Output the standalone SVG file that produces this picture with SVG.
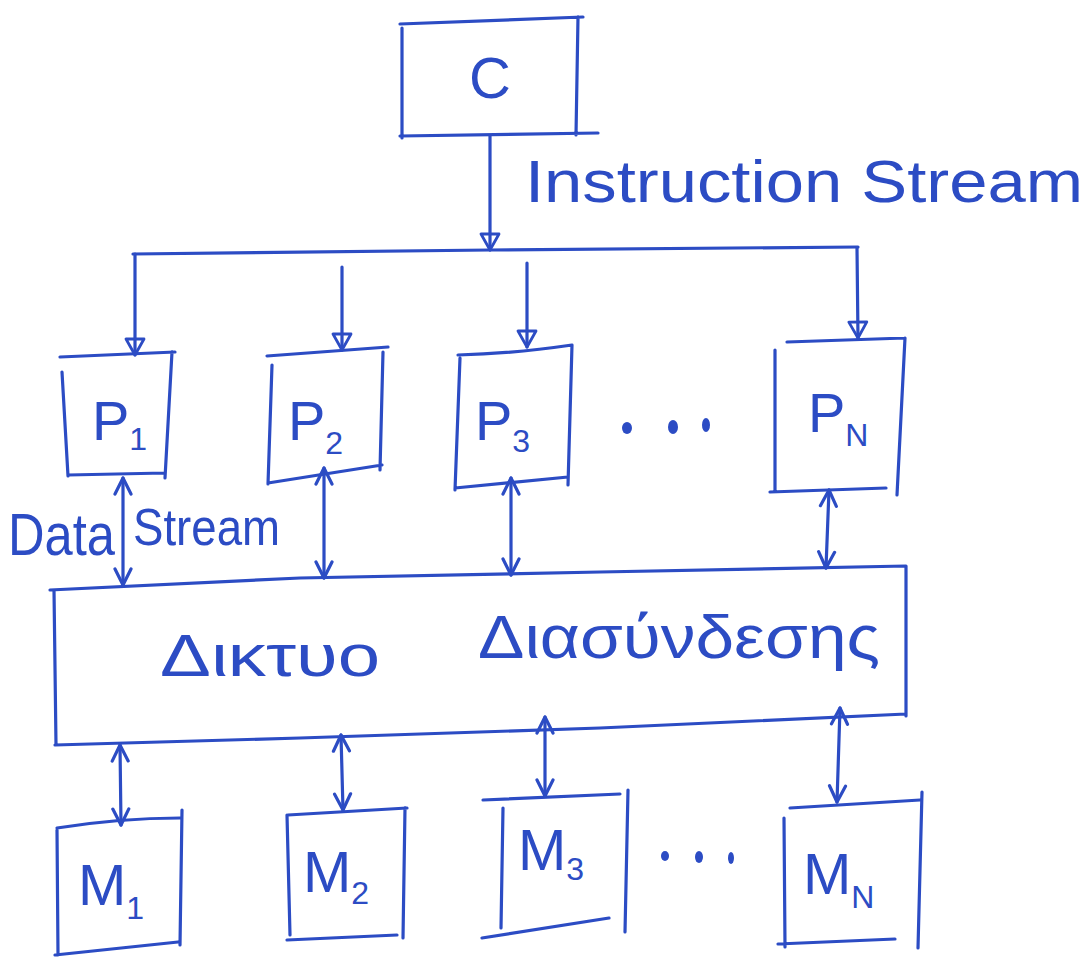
<svg xmlns="http://www.w3.org/2000/svg" width="1085" height="959" viewBox="0 0 1085 959">
  <style>
    .ink { fill: none; stroke: #2c4cc4; stroke-width: 3.2; stroke-linecap: round; stroke-linejoin: round; }
    .lbl { fill: #2c4cc4; font-family: "Liberation Sans", "DejaVu Sans", sans-serif; }
    .sub { font-size: 32px; }
    .dot { fill: #2c4cc4; }
  </style>
  <defs>
    <!-- open triangle head for the instruction broadcast -->
    <marker id="tri" viewBox="0 0 24 24" refX="22" refY="12" markerWidth="24" markerHeight="24" markerUnits="userSpaceOnUse" orient="auto-start-reverse">
      <path d="M6,3 L22,12 L6,21 Z" fill="none" stroke="#2c4cc4" stroke-width="2.8" stroke-linejoin="round"/>
    </marker>
    <!-- chevron head for the data links -->
    <marker id="tip" viewBox="0 0 22 22" refX="20" refY="11" markerWidth="22" markerHeight="22" markerUnits="userSpaceOnUse" orient="auto-start-reverse">
      <path d="M4,3 L20,11 L4,19" fill="none" stroke="#2c4cc4" stroke-width="3.2" stroke-linecap="round" stroke-linejoin="round"/>
    </marker>
  </defs>

  <rect width="1085" height="959" fill="#ffffff"/>

  <!-- control unit -->
  <g id="node-c">
    <path class="ink" d="M400,24 L583,17 M402,28 L402,138 M400,136 L598,133 M578,17 L576,135"/>
    <text class="lbl" x="490" y="98" font-size="58" text-anchor="middle">C</text>
  </g>

  <text class="lbl" x="525" y="202" font-size="60" textLength="558" lengthAdjust="spacingAndGlyphs">Instruction Stream</text>

  <!-- processors -->
  <g id="node-p1">
    <path class="ink" d="M60,357 L175,352 M62,372 L68,476 M172,352 L165,478 M68,475 L165,473"/>
    <text class="lbl" x="92" y="440" font-size="56">P<tspan class="sub" dy="10">1</tspan></text>
  </g>
  <g id="node-p2">
    <path class="ink" d="M267,356 L388,347 M272,365 L268,484 M383,352 L380,470 M268,483 L382,465"/>
    <text class="lbl" x="288" y="440" font-size="56">P<tspan class="sub" dy="14">2</tspan></text>
  </g>
  <g id="node-p3">
    <path class="ink" d="M458,355 Q510,354 572,345 M460,358 L455,490 M572,345 L568,485 M455,488 L568,477"/>
    <text class="lbl" x="475" y="440" font-size="56">P<tspan class="sub" dy="12">3</tspan></text>
  </g>
  <g id="dots-p">
    <ellipse class="dot" cx="627" cy="428" rx="5" ry="6"/>
    <ellipse class="dot" cx="673" cy="427" rx="5" ry="7"/>
    <ellipse class="dot" cx="706" cy="425" rx="4" ry="7"/>
  </g>
  <g id="node-pn">
    <path class="ink" d="M787,342 L905,338 M775,350 L775,492 M905,338 L897,495 M770,492 L886,488"/>
    <text class="lbl" x="808" y="432" font-size="56">P<tspan class="sub" dy="14">N</tspan></text>
  </g>

  <text class="lbl" x="8" y="555" font-size="60" textLength="107" lengthAdjust="spacingAndGlyphs">Data</text>
  <text class="lbl" x="133" y="545" font-size="52" textLength="147" lengthAdjust="spacingAndGlyphs">Stream</text>

  <!-- interconnection network -->
  <g id="node-net">
    <path class="ink" d="M50,590 L300,578 L600,572 L906,566 M54,590 L56,745 M906,566 L906,716 M55,745 L300,738 L600,728 L906,714"/>
    <text class="lbl" x="160" y="676" font-size="60" textLength="220" lengthAdjust="spacingAndGlyphs">Δικτυο</text>
    <text class="lbl" x="478" y="658" font-size="62" textLength="402" lengthAdjust="spacingAndGlyphs">Διασύνδεσης</text>
  </g>

  <!-- memory modules -->
  <g id="node-m1">
    <path class="ink" d="M57,828 Q120,818 180,818 M57,830 L58,955 M182,810 L180,945 M55,955 L178,942"/>
    <text class="lbl" x="78" y="905" font-size="58">M<tspan class="sub" dy="14">1</tspan></text>
  </g>
  <g id="node-m2">
    <path class="ink" d="M288,815 L407,808 M287,815 L290,935 M405,808 L403,938 M287,940 L397,935"/>
    <text class="lbl" x="303" y="892" font-size="58">M<tspan class="sub" dy="12">2</tspan></text>
  </g>
  <g id="node-m3">
    <path class="ink" d="M483,800 L620,794 M503,808 L501,928 M628,790 L625,932 M482,938 L609,918"/>
    <text class="lbl" x="518" y="870" font-size="58">M<tspan class="sub" dy="10">3</tspan></text>
  </g>
  <g id="dots-m">
    <ellipse class="dot" cx="665" cy="856" rx="4" ry="5"/>
    <ellipse class="dot" cx="699" cy="857" rx="4" ry="6"/>
    <ellipse class="dot" cx="731" cy="858" rx="3" ry="6"/>
  </g>
  <g id="node-mn">
    <path class="ink" d="M790,808 L920,800 M784,818 L785,947 M922,792 L918,948 M778,944 L895,939"/>
    <text class="lbl" x="803" y="894" font-size="58">M<tspan class="sub" dy="14">N</tspan></text>
  </g>

  <!-- connectors -->
  <g id="connectors">
    <path class="ink" d="M490,136 L490,250" marker-end="url(#tri)"/>
    <path class="ink" d="M133,254 L490,250 L858,247"/>
    <path class="ink" d="M135,254 L135,355" marker-end="url(#tri)"/>
    <path class="ink" d="M342,267 L342,350" marker-end="url(#tri)"/>
    <path class="ink" d="M527,263 L527,347" marker-end="url(#tri)"/>
    <path class="ink" d="M857,248 L858,338" marker-end="url(#tri)"/>

    <path class="ink" d="M123,478 L123,585" marker-start="url(#tip)" marker-end="url(#tip)"/>
    <path class="ink" d="M324,468 L324,578" marker-start="url(#tip)" marker-end="url(#tip)"/>
    <path class="ink" d="M511,478 L511,575" marker-start="url(#tip)" marker-end="url(#tip)"/>
    <path class="ink" d="M829,490 L826,568" marker-start="url(#tip)" marker-end="url(#tip)"/>

    <path class="ink" d="M120,745 L121,825" marker-start="url(#tip)" marker-end="url(#tip)"/>
    <path class="ink" d="M341,735 L343,810" marker-start="url(#tip)" marker-end="url(#tip)"/>
    <path class="ink" d="M545,717 L545,796" marker-start="url(#tip)" marker-end="url(#tip)"/>
    <path class="ink" d="M840,708 L837,802" marker-start="url(#tip)" marker-end="url(#tip)"/>
  </g>
</svg>
